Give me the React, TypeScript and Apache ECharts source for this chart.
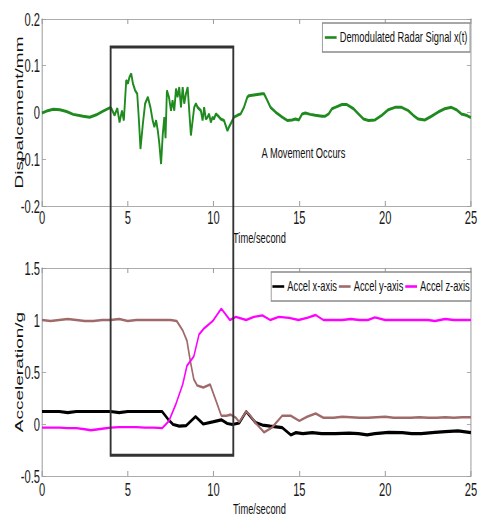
import React, { useEffect, useRef } from 'react';
import * as echarts from 'echarts';

// ---------- data ----------
const seriesNames = [
  'Demodulated Radar Signal x(t)',
  'Accel x-axis',
  'Accel y-axis',
  'Accel z-axis',
];
const yAxisTitles = ['Dispalcement/mm', 'Acceleration/g'];
const xAxisTitle = 'Time/second';

const sigTime = [
  0, 0.27, 0.66, 1.04, 1.43, 1.82, 2.4, 2.78, 3.17, 3.56, 3.94, 4.04, 4.23, 4.39, 4.52, 4.66, 4.77, 4.91,
  5.01, 5.1, 5.2, 5.3, 5.43, 5.55, 5.65, 5.74, 5.88, 6.01, 6.17, 6.32, 6.45, 6.55, 6.65, 6.75, 6.84,
  6.94, 7.04, 7.13, 7.2, 7.28, 7.4, 7.52, 7.61, 7.71, 7.81, 7.9, 8.0, 8.1, 8.2, 8.29, 8.39, 8.49, 8.58,
  8.68, 8.78, 8.87, 8.97, 9.07, 9.26, 9.36, 9.45, 9.55, 9.65, 9.74, 9.84, 9.94, 10.03, 10.13, 10.23,
  10.42, 10.61, 10.81, 10.9, 11.0, 11.19, 11.39, 11.58, 11.77, 11.97, 12.06, 12.45, 12.84, 12.94,
  13.13, 13.32, 13.61, 14.0, 14.29, 14.58, 14.77, 14.97, 15.16, 15.35, 15.64, 15.93, 16.32, 16.51,
  16.71, 16.9, 17.09, 17.48, 17.77, 18.16, 18.45, 18.74, 19.03, 19.41, 19.8, 20.19, 20.57, 20.96,
  21.35, 21.64, 21.93, 22.31, 22.7, 23.09, 23.47, 23.86, 24.15, 24.44, 24.73, 25.0,
];
const sigValue = [
  -0.001, 0.003, 0.007, 0.006, 0.002, -0.004, -0.008, -0.01, -0.005, 0.003, 0.01, 0.009, -0.006, 0.009,
  -0.021, 0.004, -0.017, 0.069, 0.062, 0.076, 0.083, 0.062, 0.047, 0.04, -0.017, -0.078, -0.024, 0.019,
  0.033, 0.011, -0.017, -0.031, -0.017, -0.039, -0.067, -0.11, -0.046, -0.01, -0.055, 0.047, 0.033,
  0.004, 0.026, 0.004, 0.051, 0.033, 0.054, 0.011, 0.054, 0.019, 0.04, 0.054, 0.004, -0.049, -0.017,
  0.011, 0.019, 0.011, 0.004, -0.017, 0.011, -0.014, -0.01, -0.003, -0.021, -0.01, -0.014, -0.003,
  -0.006, -0.014, -0.017, -0.039, -0.031, -0.024, -0.01, -0.006, -0.003, 0.011, 0.033, 0.036, 0.038,
  0.04, 0.04, 0.026, 0.011, 0.001, -0.01, -0.017, -0.016, -0.014, -0.016, -0.003, -0.001, -0.004,
  -0.006, -0.008, -0.008, -0.003, 0.008, 0.011, 0.017, 0.017, 0.008, -0.003, -0.014, -0.017, -0.016,
  -0.006, 0.006, 0.011, 0.011, 0.004, -0.006, -0.014, -0.016, -0.008, 0.001, 0.008, 0.011, 0.006,
  -0.003, -0.006, -0.011,
];

const accXTime = [
  0, 0.5, 1, 1.5, 2, 2.5, 3, 3.5, 4, 4.5, 5, 5.5, 6, 6.5, 7.0, 7.35, 7.65, 8.0, 8.4, 8.95, 9.4, 9.95,
  10.45, 10.8, 11.1, 11.5, 11.9, 12.45, 12.85, 13.3, 14.0, 14.5, 14.8, 15.2, 15.75, 16.3, 17.1, 17.9,
  18.45, 18.95, 19.4, 20.2, 21.0, 21.55, 22.1, 22.9, 23.5, 24.25, 25,
];
const accXValue = [
  0.12, 0.12, 0.12, 0.11, 0.12, 0.12, 0.12, 0.12, 0.12, 0.11, 0.12, 0.12, 0.12, 0.12, 0.12, 0.045,
  -0.005, -0.02, -0.015, 0.07, 0.0, 0.02, 0.04, 0.005, -0.005, 0.01, 0.12, 0.013, -0.01, -0.02, -0.035,
  -0.105, -0.083, -0.093, -0.083, -0.093, -0.093, -0.087, -0.093, -0.105, -0.093, -0.08, -0.083,
  -0.093, -0.093, -0.08, -0.074, -0.067, -0.083,
];

const accYTime = [
  0, 0.5, 1, 1.5, 2, 2.5, 3, 3.5, 4, 4.5, 5, 5.5, 6, 6.5, 7, 7.5, 7.85, 8.2, 8.45, 8.65, 8.85, 9.05,
  9.4, 9.8, 10.15, 10.45, 10.75, 11.0, 11.3, 11.5, 11.9, 12.1, 12.45, 12.95, 13.4, 14.0, 14.5, 15.0,
  15.45, 15.95, 16.4, 17, 17.5, 18, 18.5, 19, 19.5, 20, 20.5, 21, 21.5, 22, 22.5, 23, 23.5, 24, 24.5, 25,
];
const accYValue = [
  1.0, 0.99, 1.0, 1.01, 1.0, 0.99, 0.99, 1.0, 1.0, 1.01, 0.99, 1.0, 1.0, 1.0, 1.0, 1.0, 0.99, 0.9, 0.8,
  0.6, 0.43, 0.37, 0.35, 0.38, 0.22, 0.08, 0.08, 0.09, 0.06, 0.02, 0.12, 0.09, 0.01, -0.08, -0.035, 0.08,
  0.08, 0.03, 0.07, 0.1, 0.06, 0.06, 0.07, 0.065, 0.06, 0.06, 0.065, 0.07, 0.06, 0.06, 0.06, 0.065, 0.06,
  0.06, 0.065, 0.06, 0.065, 0.065,
];

const accZTime = [
  0, 0.5, 1, 1.5, 2, 2.5, 2.85, 3.5, 4, 4.5, 5, 5.5, 6, 6.5, 7.0, 7.4, 7.8, 8.2, 8.45, 8.85, 9.15, 9.45,
  9.95, 10.45, 10.95, 11.3, 11.9, 12.35, 12.85, 13.3, 13.8, 14.4, 14.95, 15.45, 15.95, 16.4, 17, 17.5,
  18, 18.5, 19, 19.4, 20, 20.5, 21, 21.5, 22, 22.5, 22.9, 23.5, 24, 24.5, 25,
];
const accZValue = [
  -0.035, -0.035, -0.035, -0.04, -0.04, -0.05, -0.06, -0.045, -0.035, -0.03, -0.03, -0.03, -0.035,
  -0.035, -0.04, 0.03, 0.19, 0.38, 0.56, 0.65, 0.86, 0.92, 0.99, 1.11, 1.0, 1.03, 1.0, 1.03, 1.045, 1.0,
  1.03, 1.02, 1.0, 1.02, 1.048, 1.0, 1.0, 1.0, 1.01, 1.0, 1.0, 1.025, 1.0, 1.0, 1.0, 1.0, 1.0, 1.0, 0.99,
  1.01, 1.0, 1.0, 1.0,
];

// movement window box (time span, top in displacement units, bottom in acceleration units)
const boxTime = [4.0, 11.15];
const boxTopValue = 0.14;
const boxBottomValue = -0.3;

const annotationText = 'A Movement Occurs';
const annotationTime = 12.8;
const annotationValue = -0.088;

// ---------- layout ----------
const W_REAL = 479;
const H = 518;
const W = 772; // internal width, squeezed horizontally to W_REAL
const S = W_REAL / W;
const px = (v: number) => v / S;

const FONT = '"Liberation Sans", Arial, Helvetica, sans-serif';
const AXIS_GRAY = '#9a9a9a';

const zip = (t: number[], v: number[]) => t.map((x, i) => [x, v[i]]);

function xAxes(gridIndex: number, gap: number, labelMargin: number) {
  const common = {
    gridIndex,
    type: 'value',
    min: 0,
    max: 25,
    interval: 5,
    splitLine: { show: false },
    axisLine: { show: true, onZero: false, lineStyle: { color: AXIS_GRAY, width: 1 } },
    axisTick: { show: true, inside: true, length: 5, lineStyle: { color: AXIS_GRAY, width: 1.6 } },
  };
  return [
    {
      ...common,
      position: 'bottom',
      name: xAxisTitle,
      nameLocation: 'middle',
      nameGap: gap,
      nameTextStyle: { fontSize: 15, color: '#111', fontFamily: FONT, padding: [0, 0, 0, px(6)] },
      axisLabel: { fontSize: 18, color: '#1a1a1a', margin: labelMargin, fontFamily: FONT },
    },
    { ...common, position: 'top', axisLabel: { show: false } },
  ];
}

function yAxes(gridIndex: number, min: number, max: number, interval: number) {
  const common = {
    gridIndex,
    type: 'value',
    min,
    max,
    interval,
    splitLine: { show: false },
    axisLine: { show: true, onZero: false, lineStyle: { color: AXIS_GRAY, width: 1.6 } },
    axisTick: { show: true, inside: true, length: px(4), lineStyle: { color: AXIS_GRAY, width: 1 } },
  };
  return [
    {
      ...common,
      position: 'left',
      axisLabel: { fontSize: 18, color: '#1a1a1a', margin: px(2), fontFamily: FONT },
    },
    { ...common, position: 'right', axisLabel: { show: false } },
  ];
}

export default function App() {
  const ref = useRef<HTMLDivElement>(null);

  useEffect(() => {
    const el = ref.current;
    if (!el) return;
    const chart = echarts.init(el, null, { renderer: 'svg' });
    const legendCommon = {
      orient: 'horizontal',
      icon: 'rect',
      itemWidth: 19,
      itemHeight: 2.6,
      borderColor: '#8a8a8a',
      borderWidth: 1.3,
      borderRadius: 0,
      backgroundColor: '#fff',
      selectedMode: false,
      textStyle: { fontSize: 15, color: '#111', fontFamily: FONT },
    };
    chart.setOption({
      animation: false,
      backgroundColor: '#fff',
      textStyle: { fontFamily: FONT },
      grid: [
        { left: px(42), right: px(6), top: 19, height: 187 },
        { left: px(42), right: px(6), top: 268, height: 208 },
      ],
      xAxis: [...xAxes(0, 25, 2), ...xAxes(1, 26, 4)],
      yAxis: [...yAxes(0, -0.2, 0.2, 0.1), ...yAxes(1, -0.5, 1.5, 0.5)],
      legend: [
        { ...legendCommon, data: [seriesNames[0]], right: px(9), top: 23, padding: [7, 4], itemGap: 3 },
        { ...legendCommon, data: seriesNames.slice(1), right: px(8), top: 272, padding: [7, 2], itemGap: 3 },
      ],
      series: [
        {
          name: seriesNames[0],
          type: 'line',
          xAxisIndex: 0,
          yAxisIndex: 0,
          symbol: 'none',
          data: zip(sigTime, sigValue),
          lineStyle: { color: '#1f8b1f', width: 3 },
          itemStyle: { color: '#1f8b1f' },
        },
        {
          name: seriesNames[1],
          type: 'line',
          xAxisIndex: 2,
          yAxisIndex: 2,
          symbol: 'none',
          data: zip(accXTime, accXValue),
          lineStyle: { color: '#000000', width: 3.2 },
          itemStyle: { color: '#000000' },
        },
        {
          name: seriesNames[2],
          type: 'line',
          xAxisIndex: 2,
          yAxisIndex: 2,
          symbol: 'none',
          data: zip(accYTime, accYValue),
          lineStyle: { color: '#a06a6a', width: 2.6 },
          itemStyle: { color: '#a06a6a' },
        },
        {
          name: seriesNames[3],
          type: 'line',
          xAxisIndex: 2,
          yAxisIndex: 2,
          symbol: 'none',
          data: zip(accZTime, accZValue),
          lineStyle: { color: '#ff00ff', width: 2.4 },
          itemStyle: { color: '#ff00ff' },
        },
      ],
    });

    const p1 = chart.convertToPixel({ seriesIndex: 0 }, [boxTime[0], boxTopValue]) as number[];
    const p2 = chart.convertToPixel({ seriesIndex: 1 }, [boxTime[1], boxBottomValue]) as number[];
    const pa = chart.convertToPixel({ seriesIndex: 0 }, [annotationTime, annotationValue]) as number[];
    const topMid = chart.convertToPixel({ seriesIndex: 0 }, [0, 0]) as number[];
    const botMid = chart.convertToPixel({ seriesIndex: 1 }, [0, 0.5]) as number[];
    const titleX = topMid[0] - px(23.5);
    const titleStyle = {
      fontSize: 19,
      fontFamily: FONT,
      fill: '#111',
      align: 'center',
      verticalAlign: 'middle',
    };
    chart.setOption({
      graphic: [
        {
          type: 'rect',
          silent: true,
          z: 100,
          shape: { x: p1[0], y: p1[1], width: p2[0] - p1[0], height: p2[1] - p1[1] },
          style: { fill: 'none', stroke: '#333', lineWidth: 3 },
        },
        {
          type: 'text',
          silent: true,
          z: 100,
          x: pa[0],
          y: pa[1],
          style: {
            text: annotationText,
            fontSize: 15,
            fontFamily: FONT,
            fill: '#111',
            align: 'left',
            verticalAlign: 'middle',
          },
        },
        {
          type: 'text',
          silent: true,
          z: 100,
          x: titleX,
          y: topMid[1],
          rotation: Math.PI / 2,
          style: { ...titleStyle, text: yAxisTitles[0] },
        },
        {
          type: 'text',
          silent: true,
          z: 100,
          x: titleX,
          y: botMid[1],
          rotation: Math.PI / 2,
          style: { ...titleStyle, text: yAxisTitles[1] },
        },
      ],
    });

    return () => chart.dispose();
  }, []);

  return (
    <div
      ref={ref}
      style={{
        position: 'fixed',
        left: 0,
        top: 0,
        width: W,
        height: H,
        transform: `scaleX(${S})`,
        transformOrigin: '0 0',
      }}
    />
  );
}
